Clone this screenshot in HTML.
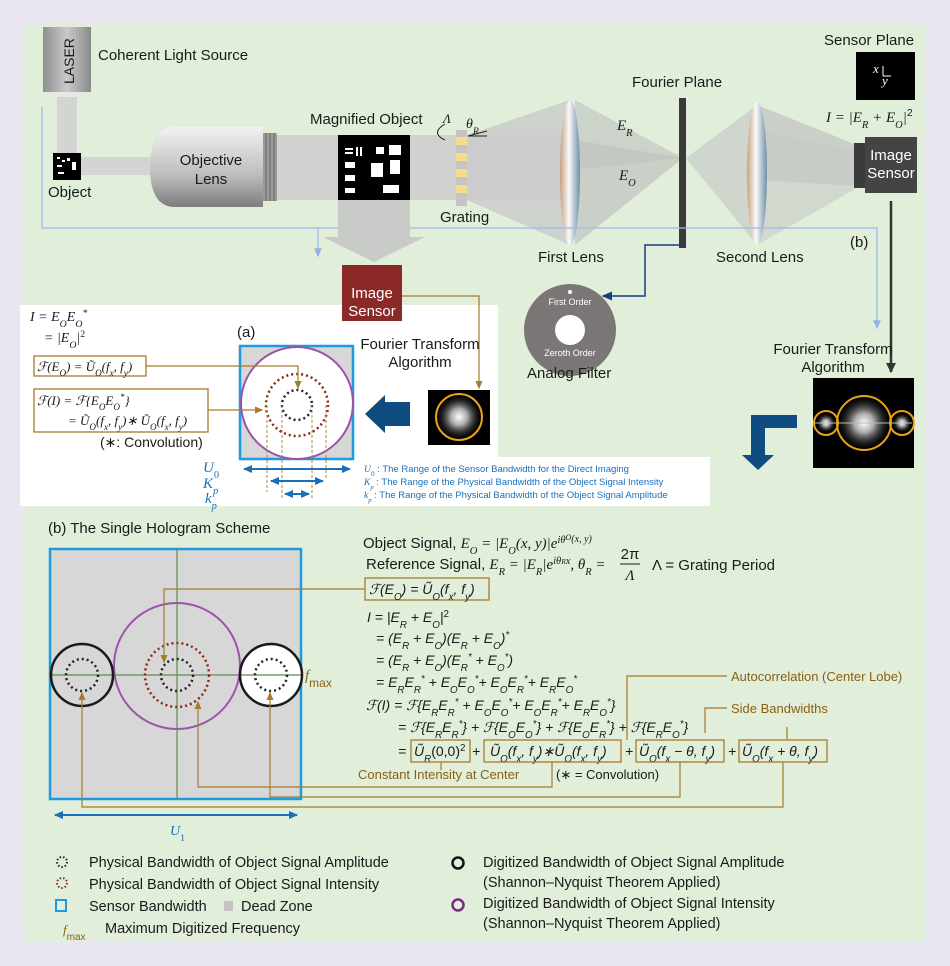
<!DOCTYPE html>
<html><head><meta charset="utf-8"><style>
body{margin:0;background:#e9e6f2}
svg{display:block}
text{font-family:"Liberation Sans",sans-serif;fill:#1a1a1a}
.m{font-family:"Liberation Serif",serif;font-style:italic}
.s{font-size:70%;baseline-shift:sub}
.p{font-size:70%;baseline-shift:super}
.o{fill:#8a5f14}
.b{fill:#1b6fb8}
</style></head><body>
<svg width="950" height="966" viewBox="0 0 950 966" xmlns="http://www.w3.org/2000/svg">
<defs>
<linearGradient id="gl" x1="0" x2="1"><stop offset="0" stop-color="#8f8f8f"/><stop offset=".5" stop-color="#c9c9c9"/><stop offset="1" stop-color="#8a8a8a"/></linearGradient>
<linearGradient id="obj" x1="0" y1="0" x2="0" y2="1"><stop offset="0" stop-color="#f2f2f2"/><stop offset=".6" stop-color="#bdbdbd"/><stop offset="1" stop-color="#7d7d7d"/></linearGradient>
<linearGradient id="lens" x1="0" x2="1"><stop offset="0" stop-color="#c8a080"/><stop offset=".45" stop-color="#fafafa"/><stop offset="1" stop-color="#6f8fa8"/></linearGradient>
<radialGradient id="ft"><stop offset="0" stop-color="#fff"/><stop offset=".35" stop-color="#aaa"/><stop offset="1" stop-color="#000" stop-opacity="0"/></radialGradient>
<marker id="ao" markerWidth="8" markerHeight="8" refX="6" refY="4" orient="auto"><path d="M0,1 L7,4 L0,7z" fill="#a77a2c"/></marker>
<marker id="ab" markerWidth="8" markerHeight="8" refX="6" refY="4" orient="auto"><path d="M0,1 L7,4 L0,7z" fill="#8fb3e6"/></marker>
<marker id="ak" markerUnits="userSpaceOnUse" markerWidth="12" markerHeight="12" refX="9" refY="6" orient="auto"><path d="M0,1 L10,6 L0,11z" fill="#333"/></marker>
<marker id="an" markerWidth="8" markerHeight="8" refX="6" refY="4" orient="auto"><path d="M0,1 L7,4 L0,7z" fill="#163f85"/></marker>
<marker id="ad" markerUnits="userSpaceOnUse" markerWidth="10" markerHeight="10" refX="8" refY="5" orient="auto"><path d="M0,1 L9,5 L0,9z" fill="#1b6fb8"/></marker>
<marker id="as" markerUnits="userSpaceOnUse" markerWidth="10" markerHeight="10" refX="1" refY="5" orient="auto"><path d="M9,1 L0,5 L9,9z" fill="#1b6fb8"/></marker>
</defs>
<rect x="23" y="24" width="903" height="918" fill="#e1eeda"/>

<!-- beams -->
<rect x="57" y="92" width="20" height="64" fill="#d3d5d3"/>
<rect x="80" y="157" width="72" height="18" fill="#d3d5d3"/>
<rect x="277" y="135" width="285" height="65" fill="#d0d2d0"/>
<polygon points="467,135 570,100 570,245 467,200" fill="#c9cbc9" opacity=".8"/>
<polygon points="575,100 683,158 575,170" fill="#c3c8c3" opacity=".7"/>
<polygon points="575,140 683,158 575,245" fill="#c0c3c0" opacity=".7"/>
<polygon points="686,158 757,105 757,245 686,158" fill="#c8ccc8" opacity=".7"/>
<polygon points="757,105 857,145 857,186 757,180" fill="#c0c3c0" opacity=".7"/>
<polygon points="757,130 857,150 857,188 757,245" fill="#c7c9c7" opacity=".6"/>

<!-- laser -->
<rect x="43" y="27" width="48" height="65" fill="url(#gl)"/>
<rect x="55" y="92" width="24" height="5" fill="#e8e8e8"/>
<text transform="translate(74,84) rotate(-90)" font-size="14" fill="#333">LASER</text>
<text x="98" y="60" font-size="15">Coherent Light Source</text>
<rect x="53" y="153" width="28" height="27" fill="#000"/>
<g fill="#fff"><rect x="57" y="157" width="3" height="2"/><rect x="62" y="160" width="3" height="2"/><rect x="57" y="165" width="5" height="2"/><rect x="67" y="158" width="3" height="3"/><rect x="72" y="162" width="4" height="8"/><rect x="58" y="172" width="6" height="2"/></g>
<text x="48" y="197" font-size="15">Object</text>

<!-- objective -->
<path d="M175,127 L263,127 L263,207 L175,207 Q150,207 150,167 Q150,127 175,127z" fill="url(#obj)"/>
<rect x="263" y="133" width="14" height="68" fill="#9a9a9a"/>
<g stroke="#666" stroke-width="1"><line x1="266" y1="133" x2="266" y2="201"/><line x1="270" y1="133" x2="270" y2="201"/><line x1="274" y1="133" x2="274" y2="201"/></g>
<text x="211" y="165" font-size="15" text-anchor="middle">Objective</text>
<text x="211" y="184" font-size="15" text-anchor="middle">Lens</text>

<!-- magnified object -->
<rect x="338" y="135" width="72" height="66" fill="#000"/>
<g fill="#fff"><rect x="345" y="148" width="8" height="2"/><rect x="345" y="152" width="8" height="2"/><rect x="356" y="147" width="2" height="9"/><rect x="360" y="147" width="2" height="9"/><rect x="376" y="147" width="8" height="7"/><rect x="345" y="162" width="10" height="6"/><rect x="345" y="175" width="10" height="6"/><rect x="345" y="188" width="10" height="5"/><rect x="389" y="145" width="12" height="10"/><rect x="390" y="160" width="10" height="14"/><rect x="371" y="163" width="12" height="14"/><rect x="383" y="185" width="16" height="8"/></g>
<text x="310" y="124" font-size="15">Magnified Object</text>
<!-- grating -->
<g><rect x="456" y="130" width="11" height="76" fill="#c4c4c4"/>
<rect x="456" y="137" width="11" height="8" fill="#f3de8e"/><rect x="456" y="153" width="11" height="8" fill="#f3de8e"/><rect x="456" y="169" width="11" height="8" fill="#f3de8e"/><rect x="456" y="185" width="11" height="8" fill="#f3de8e"/></g>
<path d="M445,124 Q430,133 445,140" fill="none" stroke="#222"/>
<text x="443" y="123" class="m" font-size="13">Λ</text>
<text x="466" y="128" class="m" font-size="14">θ<tspan class="s">R</tspan></text>
<line x1="468" y1="136" x2="487" y2="131" stroke="#222"/><line x1="468" y1="136" x2="487" y2="136" stroke="#222"/>
<text x="440" y="222" font-size="15">Grating</text>

<!-- lenses -->
<ellipse cx="570" cy="173" rx="10" ry="73" fill="url(#lens)"/>
<ellipse cx="757" cy="173" rx="10" ry="72" fill="url(#lens)"/>
<rect x="679" y="98" width="7" height="150" fill="#3a3a3a"/>
<text x="632" y="87" font-size="15">Fourier Plane</text>
<text x="617" y="130" class="m" font-size="15">E<tspan class="s">R</tspan></text>
<text x="619" y="180" class="m" font-size="15">E<tspan class="s">O</tspan></text>
<text x="538" y="262" font-size="15">First Lens</text>
<text x="716" y="262" font-size="15">Second Lens</text>

<!-- image sensor top-right -->
<rect x="854" y="143" width="13" height="45" fill="#3a3a3a"/>
<rect x="865" y="137" width="52" height="56" fill="#444"/>
<text x="891" y="160" font-size="15" text-anchor="middle" style="fill:#fff">Image</text>
<text x="891" y="178" font-size="15" text-anchor="middle" style="fill:#fff">Sensor</text>
<text x="826" y="122" class="m" font-size="15">I = |E<tspan class="s">R</tspan> + E<tspan class="s">O</tspan>|<tspan class="p" style="font-style:normal;font-family:'Liberation Sans'">2</tspan></text>
<text x="824" y="45" font-size="15">Sensor Plane</text>
<rect x="856" y="52" width="59" height="48" fill="#000"/>
<text x="873" y="73" class="m" font-size="13" style="fill:#fff">x</text>
<text x="882" y="85" class="m" font-size="13" style="fill:#fff">y</text>
<path d="M883,76 L883,66 M883,76 L891,76" stroke="#fff" fill="none"/>

<!-- blue thin lines -->
<path d="M42,107 L42,228 L877,228 L877,328" fill="none" stroke="#9cbbe8" stroke-width="1.3" marker-end="url(#ab)"/>
<path d="M318,228 L318,256" fill="none" stroke="#9cbbe8" stroke-width="1.3" marker-end="url(#ab)"/>
<polygon points="338,200 410,200 410,237 425,237 374,262 323,237 338,237" fill="#c9cbc9"/>
<text x="850" y="247" font-size="15">(b)</text>
<line x1="891" y1="201" x2="891" y2="372" stroke="#333" stroke-width="2.5" marker-end="url(#ak)"/>

<!-- analog filter -->
<path d="M683,245 L645,245 L645,296 L603,296" fill="none" stroke="#163f85" stroke-width="1.5" marker-end="url(#an)"/>
<circle cx="570" cy="330" r="46" fill="#7b7777"/>
<circle cx="570" cy="330" r="15" fill="#fff"/>
<circle cx="570" cy="292" r="2" fill="#fff"/>
<text x="570" y="305" font-size="9" text-anchor="middle" style="fill:#fff">First Order</text>
<text x="570" y="356" font-size="9" text-anchor="middle" style="fill:#fff">Zeroth Order</text>
<text x="527" y="378" font-size="15">Analog Filter</text>

<!-- right FT -->
<text x="833" y="354" font-size="15" text-anchor="middle">Fourier Transform</text>
<text x="833" y="372" font-size="15" text-anchor="middle">Algorithm</text>
<rect x="813" y="378" width="101" height="90" fill="#000"/>
<circle cx="864" cy="423" r="28" fill="url(#ft)"/><circle cx="826" cy="423" r="10" fill="url(#ft)"/><circle cx="902" cy="423" r="10" fill="url(#ft)"/>
<line x1="815" y1="423" x2="912" y2="423" stroke="#bbb" stroke-width="1"/>
<g fill="none" stroke="#e8a317" stroke-width="2"><circle cx="864" cy="423" r="27"/><circle cx="826" cy="423" r="12"/><circle cx="902" cy="423" r="12"/></g>
<path d="M751,415 L797,415 L797,428 L765,428 L765,455 L774,455 L758,470 L742,455 L751,455z" fill="#0f4c7f"/>

<!-- white panel (a) -->
<path d="M20,305 L498,305 L498,457 L710,457 L710,506 L20,506z" fill="#fff"/>
<!-- red sensor -->
<rect x="342" y="265" width="60" height="56" fill="#8b2929"/>
<text x="372" y="298" font-size="15" text-anchor="middle" style="fill:#fff">Image</text>
<text x="372" y="316" font-size="15" text-anchor="middle" style="fill:#fff">Sensor</text>

<text x="30" y="321" class="m" font-size="14">I = E<tspan class="s">O</tspan>E<tspan class="s">O</tspan><tspan class="p">*</tspan></text>
<text x="44" y="342" class="m" font-size="14">= |E<tspan class="s">O</tspan>|<tspan class="p" style="font-style:normal">2</tspan></text>
<rect x="34" y="356" width="112" height="20" fill="none" stroke="#a77a2c" stroke-width="1.3"/>
<text x="37" y="371" class="m" font-size="13">ℱ(E<tspan class="s">O</tspan>) = Ũ<tspan class="s">O</tspan>(f<tspan class="s">x</tspan>, f<tspan class="s">y</tspan>)</text>
<rect x="34" y="389" width="174" height="43" fill="none" stroke="#a77a2c" stroke-width="1.3"/>
<text x="37" y="405" class="m" font-size="13">ℱ(I) = ℱ{E<tspan class="s">O</tspan>E<tspan class="s">O</tspan><tspan class="p">*</tspan>}</text>
<text x="68" y="425" class="m" font-size="13">= Ũ<tspan class="s">O</tspan>(f<tspan class="s">x</tspan>, f<tspan class="s">y</tspan>)∗ Ũ<tspan class="s">O</tspan>(f<tspan class="s">x</tspan>, f<tspan class="s">y</tspan>)</text>
<text x="100" y="447" font-size="14">(∗: Convolution)</text>
<text x="237" y="337" font-size="15">(a)</text>
<rect x="240" y="346" width="113" height="113" fill="#d7d7d7" stroke="#1c9be0" stroke-width="2.5"/>
<circle cx="297" cy="403" r="56" fill="#fff" stroke="#9a55a6" stroke-width="2"/>
<circle cx="297" cy="405" r="31" fill="none" stroke="#8b2a12" stroke-width="2.5" stroke-dasharray="2 3"/>
<circle cx="297" cy="405" r="15" fill="none" stroke="#222" stroke-width="2.5" stroke-dasharray="2 3"/>
<g fill="none" stroke="#b3873a" stroke-width="1" stroke-dasharray="3 2"><line x1="267" y1="405" x2="267" y2="492"/><line x1="326" y1="405" x2="326" y2="480"/><line x1="282" y1="405" x2="282" y2="500"/><line x1="312" y1="405" x2="312" y2="500"/></g>
<path d="M146,366 L298,366 L298,388" fill="none" stroke="#a77a2c" stroke-width="1.2" marker-end="url(#ao)"/>
<path d="M208,410 L262,410" fill="none" stroke="#a77a2c" stroke-width="1.2" marker-end="url(#ao)"/>
<path d="M402,296 L479,296 L479,388" fill="none" stroke="#a77a2c" stroke-width="1.2" marker-end="url(#ao)"/>
<text x="420" y="349" font-size="15" text-anchor="middle">Fourier Transform</text>
<text x="420" y="367" font-size="15" text-anchor="middle">Algorithm</text>
<path d="M410,402 L385,402 L385,395 L365,414 L385,433 L385,426 L410,426z" fill="#0f4c7f"/>
<rect x="428" y="390" width="62" height="55" fill="#000"/>
<circle cx="459" cy="417" r="24" fill="url(#ft)"/>
<circle cx="459" cy="417" r="23" fill="none" stroke="#e8a317" stroke-width="2"/>
<text x="203" y="472" class="m b" font-size="15">U<tspan class="s" style="font-style:normal">0</tspan></text>
<text x="203" y="488" class="m b" font-size="15">K<tspan class="s">p</tspan></text>
<text x="205" y="503" class="m b" font-size="15">k<tspan class="s">p</tspan></text>
<g stroke="#1b6fb8" stroke-width="2"><line x1="244" y1="469" x2="350" y2="469" marker-end="url(#ad)" marker-start="url(#as)"/><line x1="271" y1="481" x2="323" y2="481" marker-end="url(#ad)" marker-start="url(#as)"/><line x1="285" y1="494" x2="309" y2="494" marker-end="url(#ad)" marker-start="url(#as)"/></g>
<g font-size="9.5"><text x="364" y="472" class="b"><tspan class="m">U</tspan><tspan class="s">0</tspan> : The Range of the Sensor Bandwidth for the Direct Imaging</text>
<text x="364" y="485" class="b"><tspan class="m">K</tspan><tspan class="s m">p</tspan> : The Range of the Physical Bandwidth of the Object Signal Intensity</text>
<text x="364" y="498" class="b"><tspan class="m">k</tspan><tspan class="s m">p</tspan> : The Range of the Physical Bandwidth of the Object Signal Amplitude</text></g>

<!-- (b) single hologram -->
<text x="48" y="533" font-size="15">(b) The Single Hologram Scheme</text>
<rect x="50" y="549" width="251" height="250" fill="#d7d7d7" stroke="#1c9be0" stroke-width="2.5"/>
<circle cx="271" cy="675" r="31" fill="#fff"/>
<line x1="177" y1="549" x2="177" y2="799" stroke="#5f8a55" stroke-width="1.2"/>
<line x1="50" y1="675" x2="301" y2="675" stroke="#5f8a55" stroke-width="1.2"/>
<circle cx="177" cy="666" r="63" fill="none" stroke="#9a55a6" stroke-width="2"/>
<circle cx="82" cy="675" r="31" fill="none" stroke="#1a1a1a" stroke-width="2.5"/>
<circle cx="271" cy="675" r="31" fill="none" stroke="#1a1a1a" stroke-width="2.5"/>
<circle cx="177" cy="675" r="32" fill="none" stroke="#8b2a12" stroke-width="2.5" stroke-dasharray="2 3"/>
<g fill="none" stroke="#222" stroke-width="2.5" stroke-dasharray="2 3"><circle cx="177" cy="675" r="16"/><circle cx="82" cy="675" r="16"/><circle cx="271" cy="675" r="16"/></g>
<text x="305" y="680" class="m o" font-size="15">f<tspan style="font-style:normal;font-family:'Liberation Sans'" font-size="12" baseline-shift="sub">max</tspan></text>
<g fill="none" stroke="#a77a2c" stroke-width="1.2">
<path d="M365,589 L164,589 L164,662" marker-end="url(#ao)"/>
<path d="M552,762 L552,787 L198,787 L198,702" marker-end="url(#ao)"/>
<path d="M680,762 L680,797 L270,797 L270,693" marker-end="url(#ao)"/>
<path d="M783,762 L783,807 L82,807 L82,693" marker-end="url(#ao)"/>
<path d="M441,762 L441,770"/>
<path d="M727,676 L627,676 L627,740"/>
<path d="M727,708 L705,708 L705,733"/>
<path d="M787,727 L787,740"/>
</g>
<g stroke="#1b6fb8" stroke-width="2"><line x1="55" y1="815" x2="297" y2="815" marker-end="url(#ad)" marker-start="url(#as)"/></g>
<text x="170" y="835" class="m b" font-size="14">U<tspan class="s" style="font-style:normal">1</tspan></text>

<!-- equations -->
<g font-size="15">
<text x="363" y="548">Object Signal, <tspan class="m">E<tspan class="s">O</tspan> = |E<tspan class="s">O</tspan>(x, y)|e<tspan class="p">iθ</tspan></tspan><tspan class="m" font-size="8" dy="-8">O</tspan><tspan class="m" font-size="10" dy="2">(x, y)</tspan></text>
<text x="366" y="569">Reference Signal, <tspan class="m">E<tspan class="s">R</tspan> = |E<tspan class="s">R</tspan>|e<tspan class="p">iθ<tspan font-size="70%">R</tspan>x</tspan>, θ<tspan class="s">R</tspan> =</tspan></text>
<text x="630" y="559" text-anchor="middle">2π</text>
<line x1="620" y1="564" x2="640" y2="564" stroke="#1a1a1a"/>
<text x="630" y="580" text-anchor="middle" class="m">Λ</text>
<text x="652" y="570">Λ = Grating Period</text>
</g>
<rect x="365" y="578" width="124" height="22" fill="none" stroke="#a77a2c" stroke-width="1.3"/>
<g class="m" font-size="14">
<text x="369" y="594">ℱ(E<tspan class="s">O</tspan>) = Ũ<tspan class="s">O</tspan>(f<tspan class="s">x</tspan>, f<tspan class="s">y</tspan>)</text>
<text x="367" y="622">I = |E<tspan class="s">R</tspan> + E<tspan class="s">O</tspan>|<tspan class="p" style="font-style:normal">2</tspan></text>
<text x="376" y="643">= (E<tspan class="s">R</tspan> + E<tspan class="s">O</tspan>)(E<tspan class="s">R</tspan> + E<tspan class="s">O</tspan>)<tspan class="p">*</tspan></text>
<text x="376" y="665">= (E<tspan class="s">R</tspan> + E<tspan class="s">O</tspan>)(E<tspan class="s">R</tspan><tspan class="p">*</tspan> + E<tspan class="s">O</tspan><tspan class="p">*</tspan>)</text>
<text x="376" y="687">= E<tspan class="s">R</tspan>E<tspan class="s">R</tspan><tspan class="p">*</tspan> + E<tspan class="s">O</tspan>E<tspan class="s">O</tspan><tspan class="p">*</tspan>+ E<tspan class="s">O</tspan>E<tspan class="s">R</tspan><tspan class="p">*</tspan>+ E<tspan class="s">R</tspan>E<tspan class="s">O</tspan><tspan class="p">*</tspan></text>
<text x="366" y="710">ℱ(I) = ℱ{E<tspan class="s">R</tspan>E<tspan class="s">R</tspan><tspan class="p">*</tspan> + E<tspan class="s">O</tspan>E<tspan class="s">O</tspan><tspan class="p">*</tspan>+ E<tspan class="s">O</tspan>E<tspan class="s">R</tspan><tspan class="p">*</tspan>+ E<tspan class="s">R</tspan>E<tspan class="s">O</tspan><tspan class="p">*</tspan>}</text>
<text x="398" y="732">= ℱ{E<tspan class="s">R</tspan>E<tspan class="s">R</tspan><tspan class="p">*</tspan>} + ℱ{E<tspan class="s">O</tspan>E<tspan class="s">O</tspan><tspan class="p">*</tspan>} + ℱ{E<tspan class="s">O</tspan>E<tspan class="s">R</tspan><tspan class="p">*</tspan>} + ℱ{E<tspan class="s">R</tspan>E<tspan class="s">O</tspan><tspan class="p">*</tspan>}</text>
<text x="398" y="756">=</text>
<text x="414" y="756">Ũ<tspan class="s">R</tspan><tspan style="font-style:normal;font-family:'Liberation Sans'">(0,0)</tspan><tspan class="p" style="font-style:normal">2</tspan></text>
<text x="472" y="756">+</text>
<text x="490" y="756">Ũ<tspan class="s">O</tspan>(f<tspan class="s">x</tspan>, f<tspan class="s">y</tspan>)∗Ũ<tspan class="s">O</tspan>(f<tspan class="s">x</tspan>, f<tspan class="s">y</tspan>)</text>
<text x="625" y="756">+</text>
<text x="639" y="756">Ũ<tspan class="s">O</tspan>(f<tspan class="s">x</tspan> − θ, f<tspan class="s">y</tspan>)</text>
<text x="728" y="756">+</text>
<text x="742" y="756">Ũ<tspan class="s">O</tspan>(f<tspan class="s">x</tspan> + θ, f<tspan class="s">y</tspan>)</text>
</g>
<g fill="none" stroke="#a77a2c" stroke-width="1.3">
<rect x="411" y="740" width="59" height="22"/><rect x="484" y="740" width="137" height="22"/><rect x="636" y="740" width="88" height="22"/><rect x="739" y="740" width="88" height="22"/>
</g>
<text x="731" y="681" font-size="13" class="o">Autocorrelation (Center Lobe)</text>
<text x="731" y="713" font-size="13" class="o">Side Bandwidths</text>
<text x="358" y="779" font-size="13" class="o">Constant Intensity at Center</text>
<text x="556" y="779" font-size="13">(∗ = Convolution)</text>

<!-- legend -->
<circle cx="62" cy="862" r="5" fill="none" stroke="#222" stroke-width="2" stroke-dasharray="1.5 2"/>
<circle cx="62" cy="883" r="5" fill="none" stroke="#8b2a12" stroke-width="2" stroke-dasharray="1.5 2"/>
<rect x="56" y="900" width="10" height="11" fill="none" stroke="#1c9be0" stroke-width="2"/>
<rect x="224" y="901" width="9" height="10" fill="#c4c4c4"/>
<text x="63" y="934" class="m o" font-size="13">f<tspan style="font-style:normal;font-family:'Liberation Sans'" font-size="10" baseline-shift="sub">max</tspan></text>
<g font-size="14.5">
<text x="89" y="867">Physical Bandwidth of Object Signal Amplitude</text>
<text x="89" y="889">Physical Bandwidth of Object Signal Intensity</text>
<text x="89" y="911">Sensor Bandwidth</text>
<text x="241" y="911">Dead Zone</text>
<text x="105" y="933">Maximum Digitized Frequency</text>
<text x="483" y="867">Digitized Bandwidth of Object Signal Amplitude</text>
<text x="483" y="887">(Shannon–Nyquist Theorem Applied)</text>
<text x="483" y="908">Digitized Bandwidth of Object Signal Intensity</text>
<text x="483" y="928">(Shannon–Nyquist Theorem Applied)</text>
</g>
<circle cx="458" cy="863" r="5.5" fill="none" stroke="#111" stroke-width="2.5"/>
<circle cx="458" cy="905" r="5.5" fill="none" stroke="#7b2a8a" stroke-width="2.5"/>
</svg>
</body></html>
